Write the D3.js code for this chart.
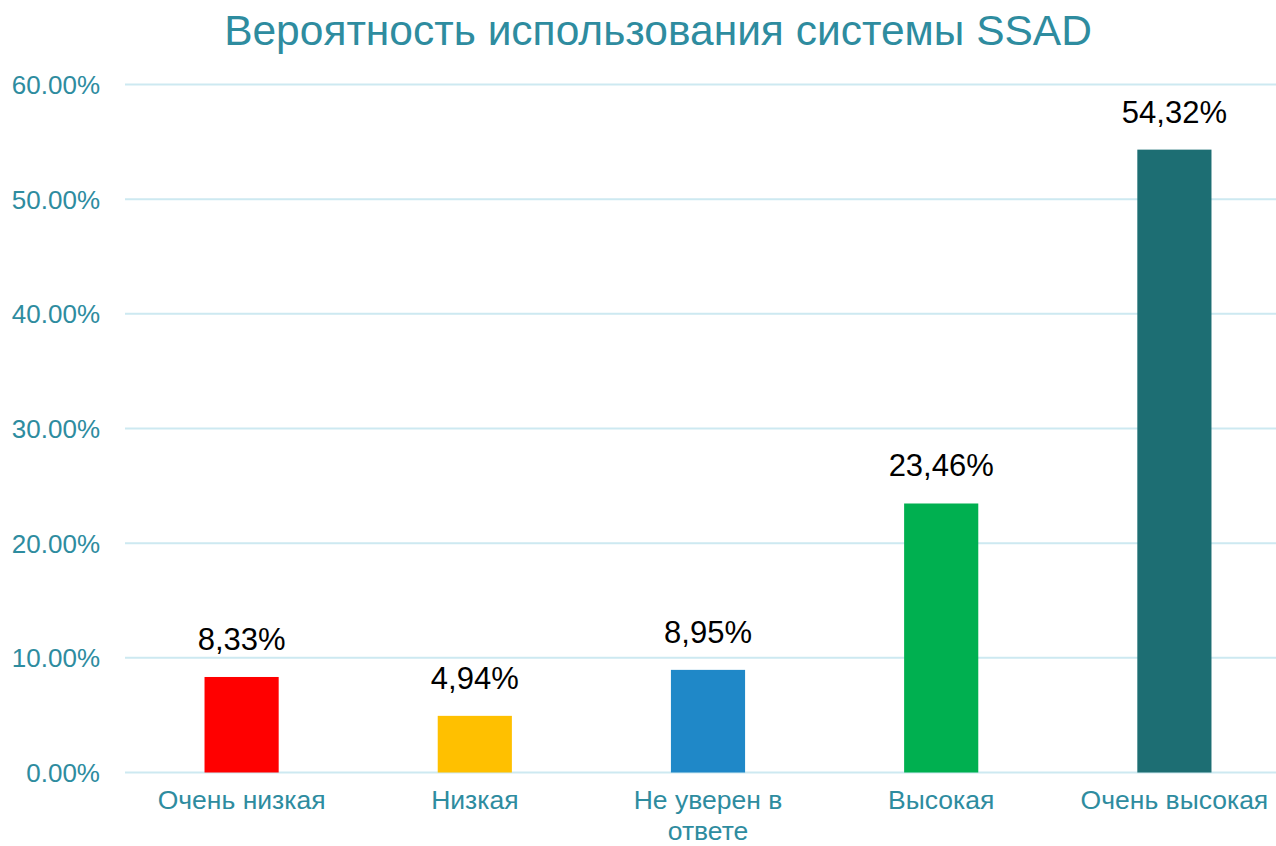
<!DOCTYPE html>
<html>
<head>
<meta charset="utf-8">
<script src="https://cdn.jsdelivr.net/npm/d3@7"></script>
<style>
  html, body { margin: 0; padding: 0; background: #fff; }
  svg { display: block; font-family: "Liberation Sans", Arial, sans-serif; }
</style>
</head>
<body>
<svg id="chart" width="1276" height="846"></svg>
<script>
const title = "Вероятность использования системы SSAD";
const categories = ["Очень низкая", "Низкая", "Не уверен в ответе", "Высокая", "Очень высокая"];
const values = [8.33, 4.94, 8.95, 23.46, 54.32];
const barColors = ["#FF0000", "#FFC000", "#1F88C8", "#00B050", "#1D6E73"];
const yTicks = [0, 10, 20, 30, 40, 50, 60];

const W = 1276, H = 846;
const margin = { left: 125, right: -15, top: 84.5, bottom: 73.5 };
const svg = d3.select("#chart");
const textColor = "#2E8C9F";

const x = d3.scaleBand()
  .domain(categories)
  .range([margin.left, W - margin.right])
  .paddingInner(0.682)
  .paddingOuter(0.341);

const y = d3.scaleLinear()
  .domain([0, 60])
  .range([H - margin.bottom, margin.top]);

// gridlines
svg.append("g")
  .selectAll("line")
  .data(yTicks)
  .join("line")
  .attr("x1", margin.left)
  .attr("x2", W)
  .attr("y1", d => y(d))
  .attr("y2", d => y(d))
  .attr("stroke", "#CDE9F1")
  .attr("stroke-width", 2);

// y axis
const yAxis = d3.axisLeft(y)
  .tickValues(yTicks)
  .tickFormat(d => d3.format(".2f")(d) + "%")
  .tickSize(0)
  .tickPadding(25);
const gy = svg.append("g")
  .attr("transform", `translate(${margin.left},0)`)
  .call(yAxis);
gy.select(".domain").remove();
gy.selectAll("text")
  .attr("fill", textColor)
  .style("font-size", "26px")
  .attr("dy", "0.35em");

// bars
svg.append("g")
  .selectAll("rect")
  .data(values)
  .join("rect")
  .attr("x", (d, i) => x(categories[i]))
  .attr("width", x.bandwidth())
  .attr("y", d => y(d))
  .attr("height", d => y(0) - y(d))
  .attr("fill", (d, i) => barColors[i]);

// data labels
svg.append("g")
  .selectAll("text")
  .data(values)
  .join("text")
  .attr("x", (d, i) => x(categories[i]) + x.bandwidth() / 2)
  .attr("y", d => y(d) - 27)
  .attr("text-anchor", "middle")
  .attr("fill", "#000")
  .style("font-size", "31px")
  .text(d => d3.format(".2f")(d).replace(".", ",") + "%");

// x axis labels with wrapping
const xAxis = d3.axisBottom(x).tickSize(0).tickPadding(0);
const gx = svg.append("g")
  .attr("transform", `translate(0,${y(0)})`)
  .call(xAxis);
gx.select(".domain").remove();
gx.selectAll(".tick text").each(function(d) {
  const t = d3.select(this);
  t.text(null).attr("y", 0).attr("dy", null)
    .attr("fill", textColor)
    .style("font-size", "26.5px");
  const maxW = x.step() * 0.95;
  const words = d.split(" ");
  const lines = [];
  let cur = [];
  const measure = t.append("tspan");
  words.forEach(w => {
    const trial = cur.concat([w]).join(" ");
    measure.text(trial);
    if (measure.node().getComputedTextLength() > maxW && cur.length) {
      lines.push(cur.join(" "));
      cur = [w];
    } else {
      cur.push(w);
    }
  });
  lines.push(cur.join(" "));
  measure.remove();
  lines.forEach((ln, i) => {
    t.append("tspan").attr("x", 0).attr("y", 36.5 + i * 30.5).text(ln);
  });
});

// title
svg.append("text")
  .attr("x", 658)
  .attr("y", 45)
  .attr("text-anchor", "middle")
  .attr("fill", textColor)
  .style("font-size", "42.5px")
  .text(title);
</script>
</body>
</html>
